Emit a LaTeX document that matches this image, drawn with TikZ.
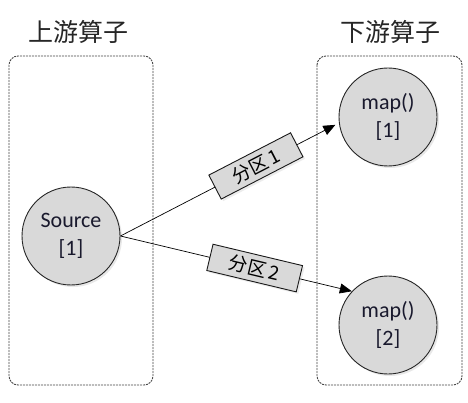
\documentclass[tikz,border=0pt]{standalone}
\usepackage{fontspec}
\setmainfont{Carlito}
\newfontfamily\cjk{Noto Sans CJK SC}
\usetikzlibrary{arrows.meta,shadows}
\definecolor{nodefill}{RGB}{217,217,217}
\definecolor{txt}{RGB}{25,25,45}
\definecolor{boxline}{RGB}{70,70,70}
\tikzset{
  groupbox/.style={draw=boxline, line width=0.9pt, dash pattern=on 2pt off 1pt, rounded corners=9pt},
  opnode/.style={circle, draw=black!85, line width=0.9pt, fill=nodefill, minimum size=98pt, inner sep=0pt,
    align=center, text=txt, font=\fontsize{22}{28}\selectfont,
    drop shadow={opacity=0.18, shadow xshift=2pt, shadow yshift=-2pt}},
  grouptitle/.style={font=\cjk\fontsize{25}{25}\selectfont, text=black!85},
  lbl/.style={draw=black!90, line width=0.9pt, fill=nodefill, minimum width=92pt, minimum height=27pt, inner sep=1pt,
    font=\cjk\fontsize{19}{19}\selectfont,
    drop shadow={opacity=0.15, shadow xshift=2pt, shadow yshift=-2pt}},
  arr/.style={draw=black, line width=0.7pt, -{Triangle[length=12pt,width=10pt]}}
}
\begin{document}
\begin{tikzpicture}[x=1pt,y=-1pt]
\useasboundingbox (0,0) rectangle (468,403);
\fill[white] (0,0) rectangle (468,403);
% group boxes
\draw[groupbox] (9,56) rectangle (153,385);
\draw[groupbox] (317,56) rectangle (462,385);
\node[grouptitle] (t1) at (78,32) {上游算子};
\node[grouptitle] (t2) at (390,32) {下游算子};
% operators
\node[opnode] (src) at (71,236) {Source\\{[1]}};
\node[opnode] (m1) at (388,117) {map()\\{[1]}};
\node[opnode] (m2) at (388,325) {map()\\{[2]}};
% connections
\draw[arr, shorten >=4pt] (src.east) -- node[lbl, sloped, pos=0.62] (l1) {分区\,1} (m1.187);
\draw[arr] (src.east) -- node[lbl, sloped, pos=0.58] (l2) {分区\,2} (m2.137);
\end{tikzpicture}
\end{document}
